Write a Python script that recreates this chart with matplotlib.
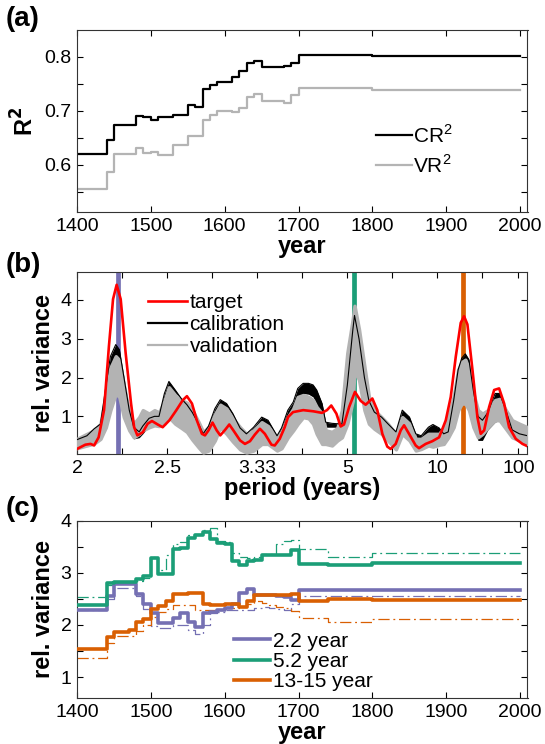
import matplotlib
matplotlib.use("Agg")
import matplotlib.pyplot as plt
from matplotlib.lines import Line2D
from matplotlib.ticker import FixedLocator

plt.rcParams['font.family'] = ['Liberation Sans', 'DejaVu Sans']
plt.rcParams['mathtext.fontset'] = 'custom'
plt.rcParams['mathtext.rm'] = 'Liberation Sans'

# ---------------- panel (a): R^2 vs start year ----------------
years_a = [1400, 1440, 1450, 1460, 1470, 1480, 1490, 1500, 1510, 1520, 1530, 1540,
           1550, 1560, 1570, 1580, 1590, 1600, 1610, 1620, 1630, 1640, 1650, 1660,
           1670, 1680, 1690, 1700, 1800, 2000]
cr2 = [0.619, 0.645, 0.674, 0.674, 0.674, 0.691, 0.688, 0.683, 0.688, 0.688, 0.692, 0.692,
       0.711, 0.707, 0.740, 0.748, 0.754, 0.754, 0.763, 0.774, 0.788, 0.792, 0.782, 0.782,
       0.781, 0.783, 0.788, 0.803, 0.801, 0.801]
vr2 = [0.555, 0.586, 0.620, 0.620, 0.620, 0.631, 0.621, 0.623, 0.617, 0.617, 0.636, 0.636,
       0.654, 0.654, 0.683, 0.692, 0.700, 0.700, 0.697, 0.706, 0.725, 0.731, 0.718, 0.718,
       0.718, 0.715, 0.729, 0.742, 0.739, 0.739]

# ---------------- panel (b): spectra vs frequency ----------------
f_target = [0.500, 0.4907, 0.485, 0.481, 0.476, 0.470, 0.4646, 0.460, 0.456, 0.4515,
            0.446, 0.440, 0.4366, 0.433, 0.427, 0.4216, 0.4168, 0.4104, 0.4049, 0.3974,
            0.390, 0.3825, 0.378, 0.3724, 0.367, 0.3614, 0.358, 0.354, 0.3496, 0.345,
            0.341, 0.3357, 0.331, 0.3265, 0.319, 0.3136, 0.308, 0.3026, 0.297, 0.2915,
            0.2842, 0.2805, 0.275, 0.2695, 0.2658, 0.2602, 0.2489, 0.2376, 0.2282, 0.2226,
            0.2178, 0.2121, 0.2074, 0.2037, 0.198, 0.1915, 0.1852, 0.1796, 0.1722, 0.1667,
            0.1611, 0.1556, 0.1519, 0.1463, 0.1407, 0.137, 0.1315, 0.1241, 0.1204, 0.113,
            0.1056, 0.0981, 0.0907, 0.0852, 0.0796, 0.0741, 0.0704, 0.0667, 0.0611, 0.0556,
            0.0519, 0.0481, 0.0426, 0.037, 0.0315, 0.0259, 0.0204, 0.013, 0.0056, 0.0]
target = [0.16, 0.27, 0.29, 0.25, 0.46, 1.16, 2.80, 4.02, 4.39, 4.02,
          2.63, 1.33, 0.72, 0.51, 0.59, 0.81, 0.88, 0.79, 0.72, 0.90,
          1.15, 1.42, 1.52, 1.33, 0.90, 0.55, 0.51, 0.64, 0.84, 0.64,
          0.51, 0.65, 0.79, 0.64, 0.38, 0.29, 0.36, 0.53, 0.68, 0.55,
          0.27, 0.25, 0.42, 0.72, 0.98, 1.11, 1.16, 1.13, 1.09, 1.16,
          1.28, 1.07, 0.74, 0.79, 1.24, 1.63, 1.40, 1.30, 1.46, 1.16,
          0.55, 0.22, 0.16, 0.29, 0.64, 0.77, 0.55, 0.25, 0.18, 0.29,
          0.36, 0.46, 0.90, 1.50, 2.54, 3.41, 3.58, 3.37, 2.20, 0.98,
          0.55, 0.64, 1.24, 1.68, 1.72, 1.33, 0.72, 0.42, 0.29, 0.23]

f_ens = [0.500, 0.489, 0.481, 0.474, 0.468, 0.463, 0.457, 0.453, 0.448, 0.442,
         0.437, 0.431, 0.427, 0.420, 0.414, 0.409, 0.403, 0.398, 0.391, 0.384,
         0.378, 0.372, 0.365, 0.360, 0.354, 0.347, 0.341, 0.334, 0.327, 0.319,
         0.312, 0.304, 0.295, 0.288, 0.278, 0.273, 0.266, 0.260, 0.255, 0.249,
         0.243, 0.238, 0.234, 0.228, 0.224, 0.217, 0.211, 0.206, 0.200, 0.194,
         0.192, 0.187, 0.181, 0.176, 0.170, 0.162, 0.155, 0.146, 0.139, 0.131,
         0.124, 0.118, 0.110, 0.105, 0.098, 0.093, 0.088, 0.082, 0.077, 0.073,
         0.069, 0.065, 0.060, 0.055, 0.050, 0.044, 0.036, 0.031, 0.024, 0.017,
         0.009, 0.000]
cal_hi = [0.40, 0.50, 0.68, 0.80, 1.76, 2.54, 2.85, 2.72, 2.02, 1.16,
          0.72, 0.60, 0.75, 0.95, 1.00, 1.00, 1.59, 1.90, 1.68, 1.45,
          1.30, 1.10, 0.80, 0.55, 0.75, 1.20, 1.43, 1.33, 1.07, 0.70,
          0.55, 0.72, 0.98, 0.90, 0.50, 0.70, 1.16, 1.37, 1.72, 1.85,
          1.85, 1.81, 1.68, 1.33, 0.85, 0.82, 0.81, 0.80, 1.80, 3.20,
          3.60, 3.00, 2.00, 1.40, 1.11, 0.98, 0.81, 0.60, 1.16, 0.98,
          0.55, 0.50, 0.72, 0.79, 0.70, 0.55, 0.60, 1.40, 2.20, 2.50,
          2.61, 2.46, 1.65, 1.00, 0.90, 1.10, 1.59, 1.59, 1.16, 0.65,
          0.55, 0.50]
cal_lo = [0.25, 0.35, 0.45, 0.55, 0.90, 1.30, 1.75, 1.65, 1.20, 0.70,
          0.42, 0.45, 0.55, 0.75, 0.80, 0.80, 0.85, 0.98, 0.85, 0.80,
          0.70, 0.50, 0.22, 0.10, 0.20, 0.45, 0.70, 0.60, 0.40, 0.12,
          0.10, 0.15, 0.35, 0.30, 0.10, 0.20, 0.45, 0.65, 1.40, 1.59,
          1.57, 1.50, 1.30, 0.81, 0.72, 0.72, 0.72, 0.46, 0.81, 1.60,
          2.35, 1.95, 1.16, 0.81, 0.68, 0.55, 0.38, 0.25, 0.60, 0.45,
          0.18, 0.18, 0.30, 0.35, 0.35, 0.35, 0.40, 0.70, 1.10, 1.40,
          1.50, 1.30, 0.75, 0.38, 0.38, 0.65, 0.85, 0.90, 0.75, 0.45,
          0.45, 0.42]
val_hi = [0.42, 0.55, 0.64, 0.81, 1.55, 2.25, 2.55, 2.45, 1.80, 1.07,
          0.81, 0.98, 1.16, 1.07, 1.16, 1.10, 1.40, 1.75, 1.55, 1.42,
          1.35, 1.16, 0.85, 0.60, 0.72, 1.05, 1.30, 1.20, 0.95, 0.72,
          0.55, 0.64, 0.85, 0.75, 0.46, 0.60, 0.98, 1.20, 1.50, 1.55,
          1.50, 1.42, 1.24, 1.07, 0.64, 0.60, 0.70, 1.16, 2.63, 3.50,
          3.85, 3.24, 2.28, 1.50, 1.16, 0.98, 0.81, 0.54, 0.98, 0.81,
          0.42, 0.42, 0.55, 0.55, 0.55, 0.72, 0.98, 1.50, 2.20, 2.40,
          2.46, 2.25, 1.59, 1.16, 1.07, 1.16, 1.42, 1.45, 1.16, 0.90,
          0.81, 0.72]
val_lo = [0.18, 0.25, 0.30, 0.42, 0.72, 1.16, 1.59, 1.50, 0.98, 0.64,
          0.46, 0.55, 0.64, 0.72, 0.77, 0.75, 0.81, 0.98, 0.81, 0.70,
          0.60, 0.40, 0.20, 0.07, 0.12, 0.38, 0.72, 0.55, 0.35, 0.15,
          0.07, 0.12, 0.29, 0.29, 0.12, 0.18, 0.46, 0.64, 0.81, 0.98,
          0.95, 0.81, 0.55, 0.29, 0.29, 0.25, 0.38, 0.46, 0.81, 1.40,
          2.20, 1.94, 1.16, 0.81, 0.68, 0.55, 0.38, 0.15, 0.55, 0.38,
          0.12, 0.16, 0.25, 0.22, 0.27, 0.29, 0.46, 0.72, 1.16, 1.33,
          1.33, 1.16, 0.72, 0.46, 0.55, 0.72, 0.90, 0.90, 0.68, 0.46,
          0.38, 0.29]

band_periods = [2.2, 5.2, 14.0]
band_colors = ['#7570b3', '#1b9e77', '#d95f02']
band_labels = ['2.2 year', '5.2 year', '13-15 year']

period_ticks = [2, 2.5, 3.33, 5, 10, 100]
period_labels = ['2', '2.5', '3.33', '5', '10', '100']

# ---------------- panel (c): band variance vs start year ----------------
years_c = [1400, 1440, 1450, 1460, 1470, 1480, 1490, 1500, 1510, 1520, 1530, 1540,
           1550, 1560, 1570, 1580, 1590, 1600, 1610, 1620, 1630, 1640, 1650, 1660,
           1670, 1680, 1690, 1700, 1740, 1800, 2000]
var22_cal = [2.29, 2.55, 2.79, 2.79, 2.79, 2.60, 2.40, 2.22, 2.04, 2.04, 2.13, 2.22,
             2.05, 1.96, 2.22, 2.25, 2.28, 2.32, 2.40, 2.62, 2.69, 2.58, 2.57, 2.57,
             2.56, 2.53, 2.48, 2.67, 2.66, 2.66, 2.66]
var52_cal = [2.38, 2.80, 2.82, 2.82, 2.83, 2.88, 2.93, 3.29, 2.98, 2.98, 3.46, 3.48,
             3.66, 3.73, 3.78, 3.65, 3.57, 3.55, 3.22, 3.14, 3.22, 3.24, 3.34, 3.33,
             3.33, 3.34, 3.44, 3.17, 3.15, 3.18, 3.18]
var14_cal = [1.54, 1.76, 1.87, 1.87, 1.90, 2.05, 2.12, 2.30, 2.37, 2.46, 2.59, 2.59,
             2.61, 2.61, 2.40, 2.39, 2.39, 2.40, 2.40, 2.35, 2.45, 2.57, 2.58, 2.58,
             2.58, 2.58, 2.60, 2.45, 2.50, 2.47, 2.47]
var22_val = [2.29, 2.50, 2.71, 2.71, 2.71, 2.55, 2.30, 1.97, 1.94, 1.94, 2.00, 2.00,
             1.90, 1.83, 2.00, 2.23, 2.25, 2.28, 2.28, 2.28, 2.28, 2.32, 2.35, 2.33,
             2.30, 2.28, 2.40, 2.55, 2.55, 2.55, 2.55]
var52_val = [2.53, 2.77, 2.83, 2.80, 2.80, 2.85, 2.90, 3.30, 3.05, 3.33, 3.55, 3.58,
             3.72, 3.75, 3.82, 3.85, 3.60, 3.58, 3.38, 3.30, 3.28, 3.30, 3.35, 3.35,
             3.55, 3.60, 3.62, 3.46, 3.30, 3.38, 3.38]
var14_val = [1.36, 1.65, 1.78, 1.78, 1.78, 1.88, 2.00, 2.16, 2.25, 2.30, 2.39, 2.39,
             2.39, 2.29, 2.29, 2.29, 2.29, 2.32, 2.32, 2.35, 2.40, 2.45, 2.42, 2.38,
             2.35, 2.32, 2.26, 2.13, 2.06, 2.12, 2.12]

TICK_FS = 14
LABEL_FS = 17
W, H = 545, 744

fig = plt.figure(figsize=(W / 100, H / 100), dpi=100)
left, right = 77 / W, 527.5 / W
ax1 = fig.add_axes([left, 1 - 212 / H, right - left, (212 - 30) / H])
ax2 = fig.add_axes([left, 1 - 454 / H, right - left, (454 - 272) / H])
ax3 = fig.add_axes([left, 1 - 698 / H, right - left, (698 - 520.5) / H])


def style_axis(ax):
    ax.tick_params(direction='in', which='both', top=True, right=True,
                   length=4, width=0.8, labelsize=TICK_FS, pad=4)
    for sp in ax.spines.values():
        sp.set_linewidth(0.8)
        sp.set_color('#333333')


# ---- (a)
ax1.step(years_a, cr2, where='post', color='black', lw=1.6, label='CR$^2$')
ax1.step(years_a, vr2, where='post', color='#b4b4b4', lw=1.6, label='VR$^2$')
ax1.set_xlim(1400, 2010)
ax1.set_ylim(0.512, 0.85)
ax1.set_xticks(range(1400, 2001, 100))
ax1.set_yticks([0.6, 0.7, 0.8])
ax1.yaxis.set_minor_locator(FixedLocator([0.55, 0.65, 0.75]))
ax1.set_xlabel('year', fontsize=LABEL_FS, fontweight='bold', labelpad=0)
ax1.set_ylabel('R$^\\mathbf{2}$', fontsize=LABEL_FS, fontweight='bold', labelpad=4)
style_axis(ax1)
ax1.legend(loc='upper left', bbox_to_anchor=(0.645, 0.53), frameon=False,
           fontsize=15, handlelength=1.75, handletextpad=0.05, labelspacing=0.35,
           borderaxespad=0)

# ---- (b)
band_freqs = [1 / p for p in band_periods]
for fq, c in zip(band_freqs, band_colors):
    ax2.axvline(fq, color=c, lw=3.4, zorder=1)
ax2.fill_between(f_ens, cal_lo, cal_hi, color='black', lw=0, zorder=2)
ax2.fill_between(f_ens, val_lo, val_hi, color='#b3b3b3', edgecolor='#b3b3b3',
                 lw=2.5, zorder=3)
ax2.plot(f_ens, cal_hi, color='black', lw=0.8, zorder=4)
ax2.plot(f_target, target, color='red', lw=1.9, zorder=5)
ax2.set_xlim(0.5, 0.0)
ax2.set_ylim(0.03, 4.72)
ax2.set_xticks([1 / p for p in period_ticks])
ax2.set_xticklabels(period_labels)
ax2.xaxis.set_minor_locator(FixedLocator([0.45, 0.35, 0.25, 0.15, 0.05]))
ax2.set_yticks([1, 2, 3, 4])
ax2.set_xlabel('period (years)', fontsize=LABEL_FS, fontweight='bold', labelpad=0)
ax2.set_ylabel('rel. variance', fontsize=LABEL_FS, fontweight='bold', labelpad=4)
style_axis(ax2)
handles_b = [Line2D([], [], color='red', lw=1.9),
             Line2D([], [], color='black', lw=1.6),
             Line2D([], [], color='#b3b3b3', lw=1.6)]
ax2.legend(handles_b, ['target', 'calibration', 'validation'], loc='upper left',
           bbox_to_anchor=(0.14, 0.93), frameon=False, fontsize=15,
           handlelength=1.85, handletextpad=0.12, labelspacing=0.15, borderaxespad=0)

# ---- (c)
cal_series = [var22_cal, var52_cal, var14_cal]
val_series = [var22_val, var52_val, var14_val]
for vals, c in zip(val_series, band_colors):
    ax3.step(years_c, vals, where='post', color=c, lw=0.9,
             linestyle=(0, (9, 3, 1.5, 3)), zorder=2)
for vals, c, lab in zip(cal_series, band_colors, band_labels):
    ax3.step(years_c, vals, where='post', color=c, lw=2.6, label=lab, zorder=3)
ax3.set_xlim(1400, 2010)
ax3.set_ylim(0.6, 4.0)
ax3.set_xticks(range(1400, 2001, 100))
ax3.set_yticks([1, 2, 3, 4])
ax3.yaxis.set_minor_locator(FixedLocator([1.5, 2.5, 3.5]))
ax3.set_xlabel('year', fontsize=LABEL_FS, fontweight='bold', labelpad=0)
ax3.set_ylabel('rel. variance', fontsize=LABEL_FS, fontweight='bold', labelpad=4)
style_axis(ax3)
ax3.legend(loc='upper left', bbox_to_anchor=(0.33, 0.42), frameon=False,
           fontsize=15, handlelength=1.75, handletextpad=0.1, labelspacing=0.05,
           borderaxespad=0)

# panel letters
for lab, ytop in [('(a)', 6), ('(b)', 252), ('(c)', 496)]:
    fig.text(6 / W, 1 - ytop / H, lab, fontsize=20, fontweight='bold',
             ha='left', va='top')

fig.savefig('out.png', dpi=100)
